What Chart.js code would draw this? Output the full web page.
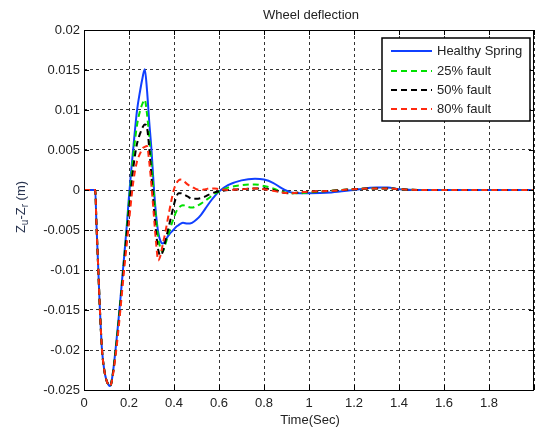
<!DOCTYPE html>
<html>
<head>
<meta charset="utf-8">
<script src="https://cdn.jsdelivr.net/npm/chart.js@4.4.1/dist/chart.umd.min.js"></script>
<style>
  html, body { margin: 0; padding: 0; background: #fff; overflow: hidden; }
  #wrap { width: 535px; height: 429px; overflow: hidden; }
</style>
</head>
<body>
<div id="wrap"><canvas id="defl" width="540" height="429"></canvas></div>
<script>
  // time axis (s)
  const time = [0, 0.05, 0.055, 0.06, 0.065, 0.07, 0.075, 0.08, 0.09, 0.10,
    0.11, 0.115, 0.12, 0.13, 0.14, 0.15, 0.16, 0.17, 0.18, 0.19,
    0.20, 0.21, 0.22, 0.235, 0.25, 0.26, 0.27, 0.28, 0.29, 0.30,
    0.31, 0.32, 0.33, 0.34, 0.35, 0.36, 0.37, 0.38, 0.39, 0.40,
    0.41, 0.42, 0.43, 0.44, 0.46, 0.48, 0.50, 0.52, 0.54, 0.56,
    0.58, 0.60, 0.64, 0.70, 0.76, 0.80, 0.84, 0.88, 0.92, 0.96,
    1.00, 1.10, 1.20, 1.30, 1.35, 1.40, 1.50, 2.00];

  const healthy = [0, 0, -0.004, -0.0075, -0.011, -0.0145, -0.0175, -0.020, -0.0225, -0.0238,
    -0.0244, -0.0245, -0.0243, -0.0225, -0.0200, -0.0172, -0.0142, -0.0110, -0.0078, -0.0045,
    -0.0008, 0.0025, 0.0055, 0.0098, 0.0125, 0.0140, 0.0151, 0.0125, 0.0085, 0.0050,
    0.0005, -0.0030, -0.0053, -0.0064, -0.0067, -0.0064, -0.0059, -0.0055, -0.0052, -0.0049,
    -0.0046, -0.0044, -0.0042, -0.0041, -0.0042, -0.0041, -0.0037, -0.0031, -0.0023, -0.0015,
    -0.0008, -0.0002, 0.0006, 0.0012, 0.0014, 0.0013, 0.0009, 0.0002, -0.0003, -0.0004,
    -0.0004, -0.0003, 0.0000, 0.0003, 0.0003, 0.0001, 0, 0];

  const fault25 = [0, 0, -0.004, -0.0075, -0.011, -0.0145, -0.0175, -0.020, -0.0225, -0.0238,
    -0.0244, -0.0245, -0.0243, -0.0226, -0.0202, -0.0175, -0.0145, -0.0113, -0.0081, -0.0049,
    -0.0015, 0.0015, 0.0045, 0.0080, 0.0100, 0.0108, 0.0113, 0.0095, 0.0066, 0.0032,
    -0.0003, -0.0035, -0.0060, -0.0073, -0.0077, -0.0069, -0.0060, -0.0051, -0.0042, -0.0034,
    -0.0027, -0.0023, -0.0020, -0.0019, -0.0021, -0.0022, -0.0020, -0.0017, -0.0013, -0.0009,
    -0.0005, -0.0002, 0.0003, 0.0006, 0.0007, 0.0005, 0.0002, -0.0002, -0.0004, -0.0004,
    -0.0003, -0.0001, 0.0001, 0.0002, 0.0002, 0.0001, 0, 0];

  const fault50 = [0, 0, -0.004, -0.0075, -0.011, -0.0145, -0.0175, -0.020, -0.0225, -0.0238,
    -0.0244, -0.0245, -0.0243, -0.0227, -0.0204, -0.0178, -0.0148, -0.0117, -0.0086, -0.0055,
    -0.0025, 0.0005, 0.0030, 0.0057, 0.0071, 0.0078, 0.0082, 0.0078, 0.0052, 0.0017,
    -0.0020, -0.0052, -0.0075, -0.0082, -0.0077, -0.0066, -0.0054, -0.0042, -0.0030, -0.0018,
    -0.0009, -0.0004, -0.0004, -0.0005, -0.0008, -0.0011, -0.0011, -0.0010, -0.0008, -0.0005,
    -0.0003, -0.0002, 0, 0.0001, 0.0002, 0.0002, 0, -0.0003, -0.0004, -0.0003,
    -0.0002, -0.0001, 0.0001, 0.0002, 0.0002, 0.0001, 0, 0];

  const fault80 = [0, 0, -0.004, -0.0075, -0.011, -0.0145, -0.0175, -0.020, -0.0225, -0.0238,
    -0.0244, -0.0245, -0.0243, -0.0229, -0.0208, -0.0183, -0.0155, -0.0125, -0.0095, -0.0068,
    -0.0040, -0.0012, 0.0012, 0.0035, 0.0046, 0.0052, 0.0054, 0.0055, 0.0035, 0.0005,
    -0.0030, -0.0065, -0.0088, -0.0082, -0.0068, -0.0055, -0.0040, -0.0025, -0.0011, 0.0001,
    0.0008, 0.0012, 0.0013, 0.0012, 0.0007, 0.0004, 0.0001, 0.0000, 0.0001, 0.0002,
    0.0002, 0.0001, 0, 0.0001, 0.0002, 0.0001, -0.0001, -0.0003, -0.0004, -0.0003,
    -0.0002, -0.0001, 0.0001, 0.0002, 0.0002, 0.0001, 0, 0];

  const seriesNames = ['Healthy Spring', '25% fault', '50% fault', '80% fault'];
  const seriesColors = ['#1040ff', '#00e000', '#000000', '#ff2a10'];

  const FONT = '"Liberation Sans", Arial, sans-serif';
  const fmt = v => String(Number(v.toFixed(4)));
  const pts = ys => time.map((t, i) => ({ x: t, y: ys[i] }));

  function ds(idx, ys, dash, order) {
    return {
      label: seriesNames[idx],
      data: pts(ys),
      borderColor: seriesColors[idx],
      borderWidth: 2,
      borderDash: dash,
      pointRadius: 0,
      cubicInterpolationMode: 'monotone',
      fill: false,
      order: order
    };
  }

  // frame, inward ticks, titles, legend
  const decor = {
    id: 'decor',
    afterDraw(chart) {
      const { ctx, chartArea: a, scales } = chart;
      ctx.save();
      ctx.strokeStyle = '#000';
      ctx.lineWidth = 1;
      ctx.setLineDash([]);
      ctx.strokeRect(a.left + 0.5, a.top + 0.5, a.right - a.left - 1, a.bottom - a.top);
      ctx.beginPath();
      scales.x.ticks.forEach(t => {
        const x = Math.round(scales.x.getPixelForValue(t.value)) + 0.5;
        ctx.moveTo(x, a.bottom); ctx.lineTo(x, a.bottom - 5);
        ctx.moveTo(x, a.top); ctx.lineTo(x, a.top + 5);
      });
      scales.y.ticks.forEach(t => {
        const y = Math.round(scales.y.getPixelForValue(t.value)) + 0.5;
        ctx.moveTo(a.left, y); ctx.lineTo(a.left + 5, y);
        ctx.moveTo(a.right, y); ctx.lineTo(a.right - 5, y);
      });
      ctx.stroke();

      ctx.fillStyle = '#222';
      ctx.font = '13px ' + FONT;
      ctx.textAlign = 'center';
      ctx.textBaseline = 'middle';
      ctx.fillText('Wheel deflection', 311, 15);
      ctx.fillText('Time(Sec)', 310, 420);

      // y label with subscripts
      ctx.save();
      ctx.translate(20, 207);
      ctx.rotate(-Math.PI / 2);
      ctx.fillStyle = '#2a3550';
      ctx.textAlign = 'left';
      ctx.textBaseline = 'alphabetic';
      const parts = [['Z', 0, 13], ['u', 3, 10], ['-Z', 0, 13], ['r', 3, 10], [' (m)', 0, 13]];
      let w = 0;
      parts.forEach(p => { ctx.font = p[2] + 'px ' + FONT; w += ctx.measureText(p[0]).width; });
      let x = -w / 2;
      parts.forEach(p => {
        ctx.font = p[2] + 'px ' + FONT;
        ctx.fillText(p[0], x, 5 + p[1]);
        x += ctx.measureText(p[0]).width;
      });
      ctx.restore();

      // legend box
      const lx = 382, ly = 38, lw = 148, lh = 83;
      ctx.fillStyle = '#fff';
      ctx.fillRect(lx, ly, lw, lh);
      ctx.lineWidth = 1.5;
      ctx.strokeStyle = '#000';
      ctx.strokeRect(lx, ly, lw, lh);
      const rows = [51, 71, 90, 109];
      const dashes = [[], [6, 4], [6, 4], [6, 4]];
      ctx.font = '13px ' + FONT;
      ctx.textAlign = 'left';
      ctx.textBaseline = 'middle';
      rows.forEach((ry, i) => {
        ctx.beginPath();
        ctx.setLineDash(dashes[i]);
        ctx.lineWidth = 2;
        ctx.strokeStyle = seriesColors[i];
        ctx.moveTo(391, ry); ctx.lineTo(432, ry);
        ctx.stroke();
        ctx.setLineDash([]);
        ctx.fillStyle = '#222';
        ctx.fillText(seriesNames[i], 437, ry);
      });
      ctx.restore();
    }
  };

  const chart = new Chart(document.getElementById('defl').getContext('2d'), {
    type: 'line',
    data: {
      datasets: [
        ds(0, healthy, [], 4),
        ds(1, fault25, [6, 4], 3),
        ds(2, fault50, [6, 4], 2),
        ds(3, fault80, [6, 4], 1)
      ]
    },
    options: {
      responsive: false,
      animation: false,
      layout: { padding: { top: 30, right: 2, left: 0, bottom: 0 } },
      plugins: { legend: { display: false }, title: { display: false }, tooltip: { enabled: false } },
      scales: {
        x: {
          type: 'linear',
          min: 0,
          max: 2,
          afterFit: s => { s.height = 39; },
          grid: { color: '#333', lineWidth: 1, drawTicks: false },
          border: { display: false, dash: [3, 3] },
          ticks: {
            stepSize: 0.2,
            padding: 6,
            maxRotation: 0,
            autoSkip: false,
            color: '#222',
            font: { family: FONT, size: 13 },
            callback: v => (v > 1.9 ? '' : fmt(v))
          }
        },
        y: {
          min: -0.025,
          max: 0.02,
          afterFit: s => { s.width = 84; },
          grid: { color: '#333', lineWidth: 1, drawTicks: false },
          border: { display: false, dash: [3, 3] },
          ticks: {
            stepSize: 0.005,
            padding: 4,
            color: '#222',
            font: { family: FONT, size: 13 },
            callback: v => fmt(v)
          }
        }
      }
    },
    plugins: [decor]
  });
</script>
</body>
</html>
